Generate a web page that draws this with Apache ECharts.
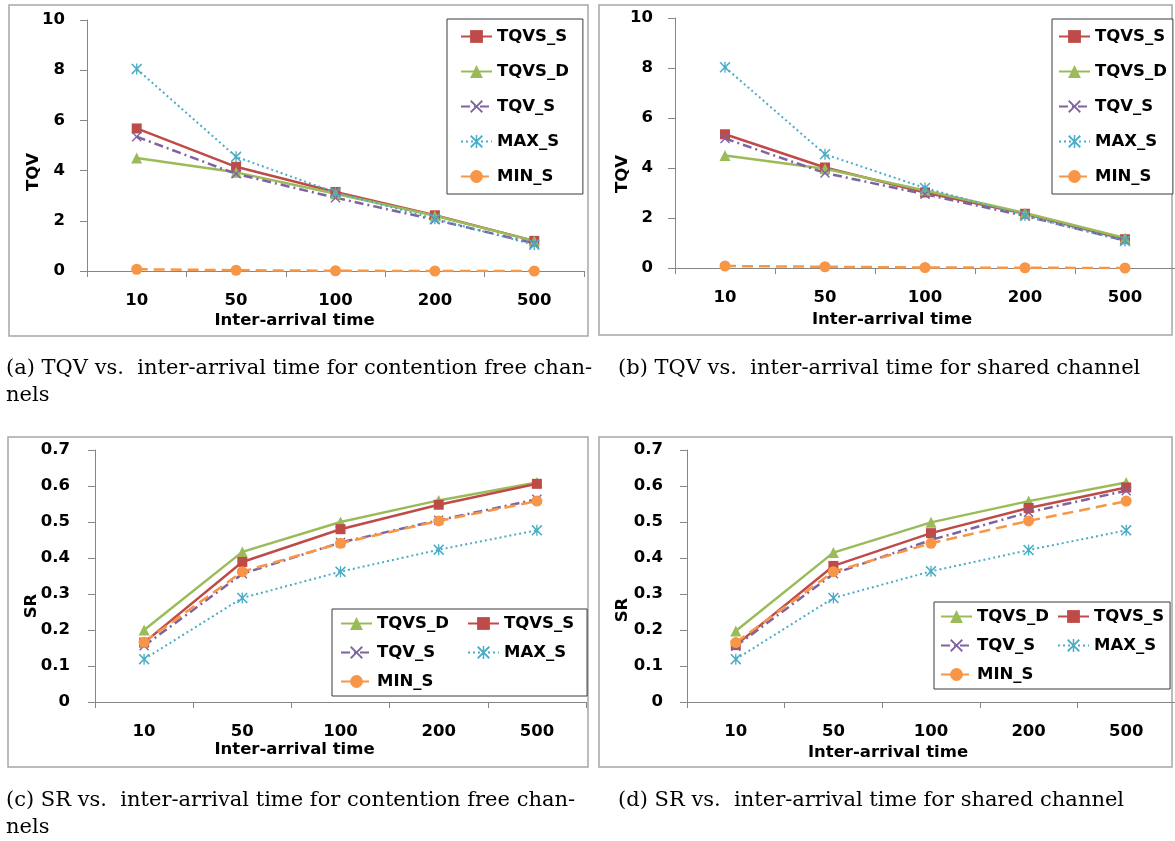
<!DOCTYPE html>
<html>
<head>
<meta charset="utf-8">
<script src="https://cdn.jsdelivr.net/npm/echarts@6/dist/echarts.min.js"></script>
<style>
  html, body { margin: 0; padding: 0; background: #ffffff; }
  #chart { width: 1175px; height: 841px; }
</style>
</head>
<body>
<div id="chart"></div>
<script>
// Inter-arrival time categories shared by all four panels
const categories = ['10', '50', '100', '200', '500'];

// (a) TQV, contention free channels
const tqvFreeTqvsS = [5.68, 4.15, 3.15, 2.22, 1.2];
const tqvFreeTqvsD = [4.5, 3.93, 3.08, 2.2, 1.2];
const tqvFreeTqvS  = [5.35, 3.87, 2.92, 2.04, 1.1];
const tqvFreeMaxS  = [8.05, 4.55, 3.13, 2.08, 1.05];
const tqvFreeMinS  = [0.07, 0.03, 0.01, 0.0, 0.0];

// (b) TQV, shared channel
const tqvSharedTqvsS = [5.35, 4.02, 3.02, 2.17, 1.15];
const tqvSharedTqvsD = [4.5, 3.97, 3.1, 2.2, 1.2];
const tqvSharedTqvS  = [5.18, 3.8, 2.95, 2.08, 1.1];
const tqvSharedMaxS  = [8.03, 4.55, 3.2, 2.1, 1.08];
const tqvSharedMinS  = [0.08, 0.05, 0.02, 0.01, 0.0];

// (c) SR, contention free channels
const srFreeTqvsD = [0.2, 0.417, 0.5, 0.56, 0.61];
const srFreeTqvsS = [0.165, 0.389, 0.48, 0.548, 0.606];
const srFreeTqvS  = [0.156, 0.356, 0.443, 0.505, 0.563];
const srFreeMaxS  = [0.119, 0.289, 0.362, 0.423, 0.477];
const srFreeMinS  = [0.166, 0.362, 0.441, 0.503, 0.558];

// (d) SR, shared channel
const srSharedTqvsD = [0.197, 0.415, 0.499, 0.558, 0.61];
const srSharedTqvsS = [0.158, 0.378, 0.469, 0.539, 0.596];
const srSharedTqvS  = [0.155, 0.356, 0.45, 0.527, 0.587];
const srSharedMaxS  = [0.119, 0.289, 0.363, 0.422, 0.477];
const srSharedMinS  = [0.165, 0.362, 0.441, 0.503, 0.558];

// Value-axis ranges
const tqvAxis = { min: 0, max: 10, interval: 2 };
const srAxis  = { min: 0, max: 0.7, interval: 0.1 };

const captionA = ['(a) TQV vs.  inter-arrival time for contention free chan-', 'nels'];
const captionB = ['(b) TQV vs.  inter-arrival time for shared channel'];
const captionC = ['(c) SR vs.  inter-arrival time for contention free chan-', 'nels'];
const captionD = ['(d) SR vs.  inter-arrival time for shared channel'];

const SANS = 'DejaVu Sans';
const SERIF = 'DejaVu Serif';
const FS = 16.5;
const CAPTION_FS = 21;
const AXIS_GREY = '#868686';

// Marker glyphs: a thin "x" and an asterisk, both as filled outlines
const X_PATH = 'path://M0,1L1,0L5,4L9,0L10,1L6,5L10,9L9,10L5,6L1,10L0,9L4,5Z';
const STAR_PATH = 'path://M0,1L1,0L5,4L9,0L10,1L6,5L10,9L9,10L5,6L1,10L0,9L4,5Z M4.4,0L5.6,0L5.6,10L4.4,10Z';

const STYLE = {
  'TQVS_S': { color: '#BE4B48', symbol: 'rect', size: 10, width: 2.5, type: 'solid' },
  'TQVS_D': { color: '#9BBB59', symbol: 'triangle', size: 11, width: 2.5, type: 'solid' },
  'TQV_S':  { color: '#7F62A1', symbol: X_PATH, size: 10, width: 2.5, type: [9, 4, 2, 4] },
  'MAX_S':  { color: '#4BACC6', symbol: STAR_PATH, size: 11, width: 2, type: [2, 3] },
  'MIN_S':  { color: '#F79646', symbol: 'circle', size: 11, width: 2.5, type: [11, 6] }
};

const boldText = { fontFamily: SANS, fontWeight: 'bold', fontSize: FS, color: '#000' };

function lineSeries(name, data, idx) {
  const s = STYLE[name];
  return {
    type: 'line', name: name, data: data,
    xAxisIndex: idx, yAxisIndex: idx,
    symbol: s.symbol, symbolSize: s.size, showSymbol: true,
    itemStyle: { color: s.color },
    lineStyle: { color: s.color, width: s.width, type: s.type },
    emphasis: { disabled: true },
    animation: false
  };
}

function xAxisFor(idx, nameGap, shiftLeft) {
  return {
    type: 'category', gridIndex: idx, data: categories, boundaryGap: true,
    axisLine: { show: true, lineStyle: { color: AXIS_GREY, width: 1 } },
    axisTick: { show: true, length: 6, lineStyle: { color: AXIS_GREY } },
    axisLabel: Object.assign({ margin: 21 }, boldText),
    splitLine: { show: false },
    name: 'Inter-arrival time', nameLocation: 'middle', nameGap: nameGap,
    nameTextStyle: Object.assign({ padding: [0, shiftLeft * 2, 0, 0] }, boldText)
  };
}

function yAxisFor(idx, range, margin) {
  return {
    type: 'value', gridIndex: idx,
    min: range.min, max: range.max, interval: range.interval,
    axisLine: { show: true, lineStyle: { color: AXIS_GREY, width: 1 } },
    axisTick: { show: true, length: 7, lineStyle: { color: AXIS_GREY } },
    axisLabel: Object.assign({ margin: margin }, boldText),
    splitLine: { show: false }
  };
}

const legendBase = {
  selectedMode: false,
  itemGap: 0, itemWidth: 31, itemHeight: 16,
  borderColor: '#3a3a3a', borderWidth: 1,
  backgroundColor: '#ffffff'
};

const option = {
  backgroundColor: '#ffffff',
  animation: false,
  grid: [
    { left: 87, top: 20, width: 497, height: 251 },
    { left: 675, top: 18, width: 500, height: 250 },
    { left: 95, top: 450, width: 491, height: 252 },
    { left: 687, top: 450, width: 488, height: 252 }
  ],
  xAxis: [
    xAxisFor(0, 41, 41),
    xAxisFor(1, 43, 33),
    xAxisFor(2, 39, 46),
    xAxisFor(3, 42, 43)
  ],
  yAxis: [
    yAxisFor(0, tqvAxis, 22),
    yAxisFor(1, tqvAxis, 22),
    yAxisFor(2, srAxis, 25),
    yAxisFor(3, srAxis, 24)
  ],
  legend: [
    Object.assign({}, legendBase, {
      orient: 'vertical', left: 447, top: 19, padding: [0, 14, 0, 13],
      textStyle: Object.assign({ lineHeight: 35 }, boldText),
      data: ['TQVS_S', 'TQVS_D', 'TQV_S', 'MAX_S', 'MIN_S']
    }),
    Object.assign({}, legendBase, {
      orient: 'vertical', left: 1052, top: 19, padding: [0, 6, 0, 6],
      textStyle: Object.assign({ lineHeight: 35 }, boldText),
      data: ['TQVS_S', 'TQVS_D', 'TQV_S', 'MAX_S', 'MIN_S']
    }),
    Object.assign({}, legendBase, {
      orient: 'horizontal', left: 332, top: 609, width: 240, padding: [0, 13, 0, 8],
      textStyle: Object.assign({ lineHeight: 29 }, boldText),
      data: [
        { name: 'TQVS_D', textStyle: { width: 90 } }, { name: 'TQVS_S' },
        { name: 'TQV_S', textStyle: { width: 90 } }, { name: 'MAX_S' },
        { name: 'MIN_S', textStyle: { width: 90 } }
      ]
    }),
    Object.assign({}, legendBase, {
      orient: 'horizontal', left: 934, top: 602, width: 232, padding: [0, 6, 0, 6],
      textStyle: Object.assign({ lineHeight: 29 }, boldText),
      data: [
        { name: 'TQVS_D', textStyle: { width: 80 } }, { name: 'TQVS_S' },
        { name: 'TQV_S', textStyle: { width: 80 } }, { name: 'MAX_S' },
        { name: 'MIN_S', textStyle: { width: 80 } }
      ]
    })
  ],
  series: [
    lineSeries('TQVS_S', tqvFreeTqvsS, 0),
    lineSeries('TQVS_D', tqvFreeTqvsD, 0),
    lineSeries('TQV_S', tqvFreeTqvS, 0),
    lineSeries('MAX_S', tqvFreeMaxS, 0),
    lineSeries('MIN_S', tqvFreeMinS, 0),

    lineSeries('TQVS_S', tqvSharedTqvsS, 1),
    lineSeries('TQVS_D', tqvSharedTqvsD, 1),
    lineSeries('TQV_S', tqvSharedTqvS, 1),
    lineSeries('MAX_S', tqvSharedMaxS, 1),
    lineSeries('MIN_S', tqvSharedMinS, 1),

    lineSeries('TQVS_D', srFreeTqvsD, 2),
    lineSeries('TQVS_S', srFreeTqvsS, 2),
    lineSeries('TQV_S', srFreeTqvS, 2),
    lineSeries('MAX_S', srFreeMaxS, 2),
    lineSeries('MIN_S', srFreeMinS, 2),

    lineSeries('TQVS_D', srSharedTqvsD, 3),
    lineSeries('TQVS_S', srSharedTqvsS, 3),
    lineSeries('TQV_S', srSharedTqvS, 3),
    lineSeries('MAX_S', srSharedMaxS, 3),
    lineSeries('MIN_S', srSharedMinS, 3)
  ],
  graphic: []
};

// Panel frames
const frames = [
  { x: 9, y: 5, width: 579, height: 331 },
  { x: 599, y: 5, width: 573, height: 330 },
  { x: 8, y: 437, width: 580, height: 330 },
  { x: 599, y: 437, width: 573, height: 330 }
];
frames.forEach(function (f) {
  option.graphic.push({
    type: 'rect', z: -10, silent: true, shape: f,
    style: { fill: 'none', stroke: '#a6a6a6', lineWidth: 1.5 }
  });
});

// Vertical axis titles
const yTitles = [
  { text: 'TQV', x: 34, y: 172 },
  { text: 'TQV', x: 623, y: 174 },
  { text: 'SR', x: 32, y: 606 },
  { text: 'SR', x: 623, y: 610 }
];
yTitles.forEach(function (t) {
  option.graphic.push({
    type: 'text', x: t.x, y: t.y, rotation: Math.PI / 2, silent: true,
    style: {
      text: t.text, fill: '#000', align: 'center', verticalAlign: 'middle',
      font: 'bold ' + FS + 'px "' + SANS + '"'
    }
  });
});

// Sub-figure captions
function addCaption(lines, x, y) {
  lines.forEach(function (line, i) {
    option.graphic.push({
      type: 'text', x: x, y: y + i * 27, silent: true,
      style: {
        text: line, fill: '#000', align: 'left', verticalAlign: 'middle',
        font: CAPTION_FS + 'px "' + SERIF + '"'
      }
    });
  });
}
addCaption(captionA, 6, 369);
addCaption(captionB, 618, 369);
addCaption(captionC, 6, 801);
addCaption(captionD, 618, 801);

const chart = echarts.init(document.getElementById('chart'), null, { renderer: 'canvas' });
chart.setOption(option);
</script>
</body>
</html>
